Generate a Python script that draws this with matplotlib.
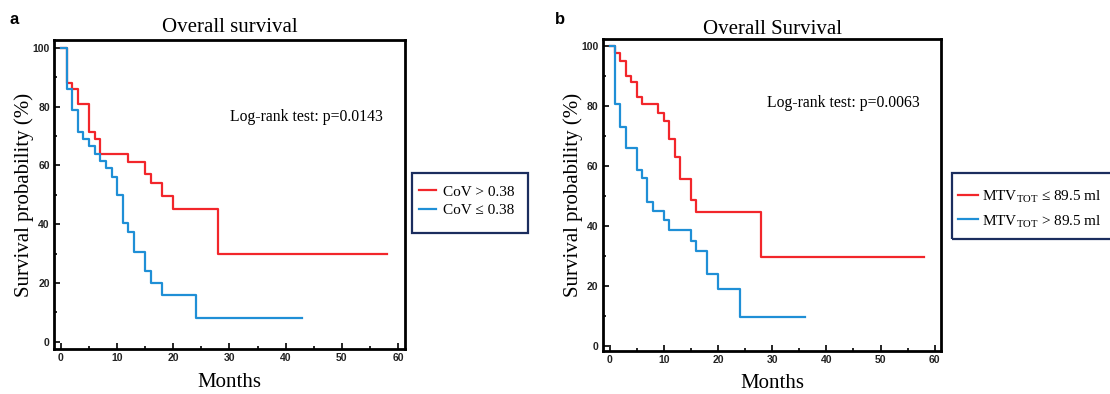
import matplotlib.pyplot as plt
from matplotlib.ticker import MultipleLocator
from matplotlib.patches import Rectangle

plt.rcParams['font.family'] = ['Liberation Serif', 'DejaVu Serif']
plt.rcParams['mathtext.fontset'] = 'custom'
plt.rcParams['mathtext.rm'] = 'Liberation Serif'

# panel a: CoV groups
a_hi_t = [0, 1, 2, 3, 5, 6, 7, 12, 15, 16, 18, 20, 28, 58]
a_hi_s = [100, 88, 86, 81, 71.5, 69, 64, 61, 57, 54, 49.5, 45, 30, 30]
a_lo_t = [0, 1, 2, 3, 4, 5, 6, 7, 8, 9, 10, 11, 12, 13, 15, 16, 18, 24, 43]
a_lo_s = [100, 86, 79, 71.5, 69, 66.5, 64, 61.5, 59, 56, 50, 40.5, 37.5, 30.5, 24, 20, 16, 8, 8]

# panel b: MTV groups
b_lo_t = [0, 1, 2, 3, 4, 5, 6, 9, 10, 11, 12, 13, 15, 16, 28, 58]
b_lo_s = [100, 97.5, 95, 90, 88, 83, 80.5, 77.5, 75, 69, 63, 55.5, 48.5, 44.5, 29.5, 29.5]
b_hi_t = [0, 1, 2, 3, 5, 6, 7, 8, 10, 11, 15, 16, 18, 20, 24, 36]
b_hi_s = [100, 80.5, 73, 66, 58.5, 56, 48, 45, 42, 38.5, 35, 31.5, 24, 19, 9.5, 9.5]

RED = '#f2262b'
BLUE = '#1f8fd6'
NAVY = '#1b2d5e'

fig = plt.figure(figsize=(11.1, 3.94), dpi=100)
ax1 = fig.add_axes([0.0486, 0.114, 0.316, 0.784])
ax2 = fig.add_axes([0.543, 0.109, 0.305, 0.791])


def style(ax, ylim, xpad):
    ax.set_xlim(-1.25, 61.2)
    ax.set_ylim(*ylim)
    ax.xaxis.set_major_locator(MultipleLocator(10))
    ax.xaxis.set_minor_locator(MultipleLocator(5))
    ax.yaxis.set_major_locator(MultipleLocator(20))
    ax.yaxis.set_minor_locator(MultipleLocator(10))
    ax.tick_params(which='both', direction='in', width=1.2, labelsize=7.5, pad=3)
    ax.tick_params(which='major', length=4)
    ax.tick_params(which='minor', length=2.5)
    for lab in ax.get_xticklabels() + ax.get_yticklabels():
        lab.set_family(['Liberation Sans', 'DejaVu Sans'])
        lab.set_fontweight('bold')
        lab.set_color('#222222')
    for sp in ax.spines.values():
        sp.set_linewidth(2)
    ax.set_xlabel('Months', fontsize=15, labelpad=xpad)
    ax.set_ylabel('Survival probability (%)', fontsize=15, labelpad=-1)


def legend_box(ax, x0, y0, x1, y1, hx, hy, spacing, tpad, hlen):
    # box and legend placed in figure pixels (top-left origin)
    W, H = 1110, 394
    fig.add_artist(Rectangle((x0 / W, 1 - y1 / H), (x1 - x0) / W, (y1 - y0) / H,
                             transform=fig.transFigure, fill=False,
                             edgecolor=NAVY, lw=1.6, clip_on=False))
    leg = ax.legend(loc='center left', bbox_to_anchor=(hx / W, 1 - hy / H),
                    bbox_transform=fig.transFigure, fontsize=11, frameon=False,
                    borderpad=0, borderaxespad=0, handlelength=hlen,
                    handletextpad=tpad, labelspacing=spacing)
    return leg


ax1.step(a_hi_t, a_hi_s, where='post', color=RED, lw=1.6, label='CoV > 0.38')
ax1.step(a_lo_t, a_lo_s, where='post', color=BLUE, lw=1.6, label='CoV ≤ 0.38')
style(ax1, (-2.5, 102.6), 7)
ax1.set_title('Overall survival', fontsize=15, pad=6)
ax1.text(0.937, 0.751, 'Log-rank test: p=0.0143', transform=ax1.transAxes,
         ha='right', va='center', fontsize=11.3)
legend_box(ax1, 412, 173, 528, 233, 419, 201, 0.3, 0.45, 1.1)

ax2.step(b_lo_t, b_lo_s, where='post', color=RED, lw=1.6,
         label='MTV$_{\\mathrm{TOT}}$ ≤ 89.5 ml')
ax2.step(b_hi_t, b_hi_s, where='post', color=BLUE, lw=1.6,
         label='MTV$_{\\mathrm{TOT}}$ > 89.5 ml')
style(ax2, (-1.8, 102.1), 6)
ax2.set_title('Overall Survival', fontsize=15, pad=4)
ax2.text(0.935, 0.796, 'Log-rank test: p=0.0063', transform=ax2.transAxes,
         ha='right', va='center', fontsize=11.3)
legend_box(ax2, 952, 173, 1118, 239, 958, 209, 0.5, 0.3, 1.3)

fig.text(0.009, 0.95, 'a', fontsize=12, fontweight='bold',
         family=['Liberation Sans', 'DejaVu Sans'], va='center')
fig.text(0.500, 0.95, 'b', fontsize=12, fontweight='bold',
         family=['Liberation Sans', 'DejaVu Sans'], va='center')

fig.savefig('out.png', dpi=100)
